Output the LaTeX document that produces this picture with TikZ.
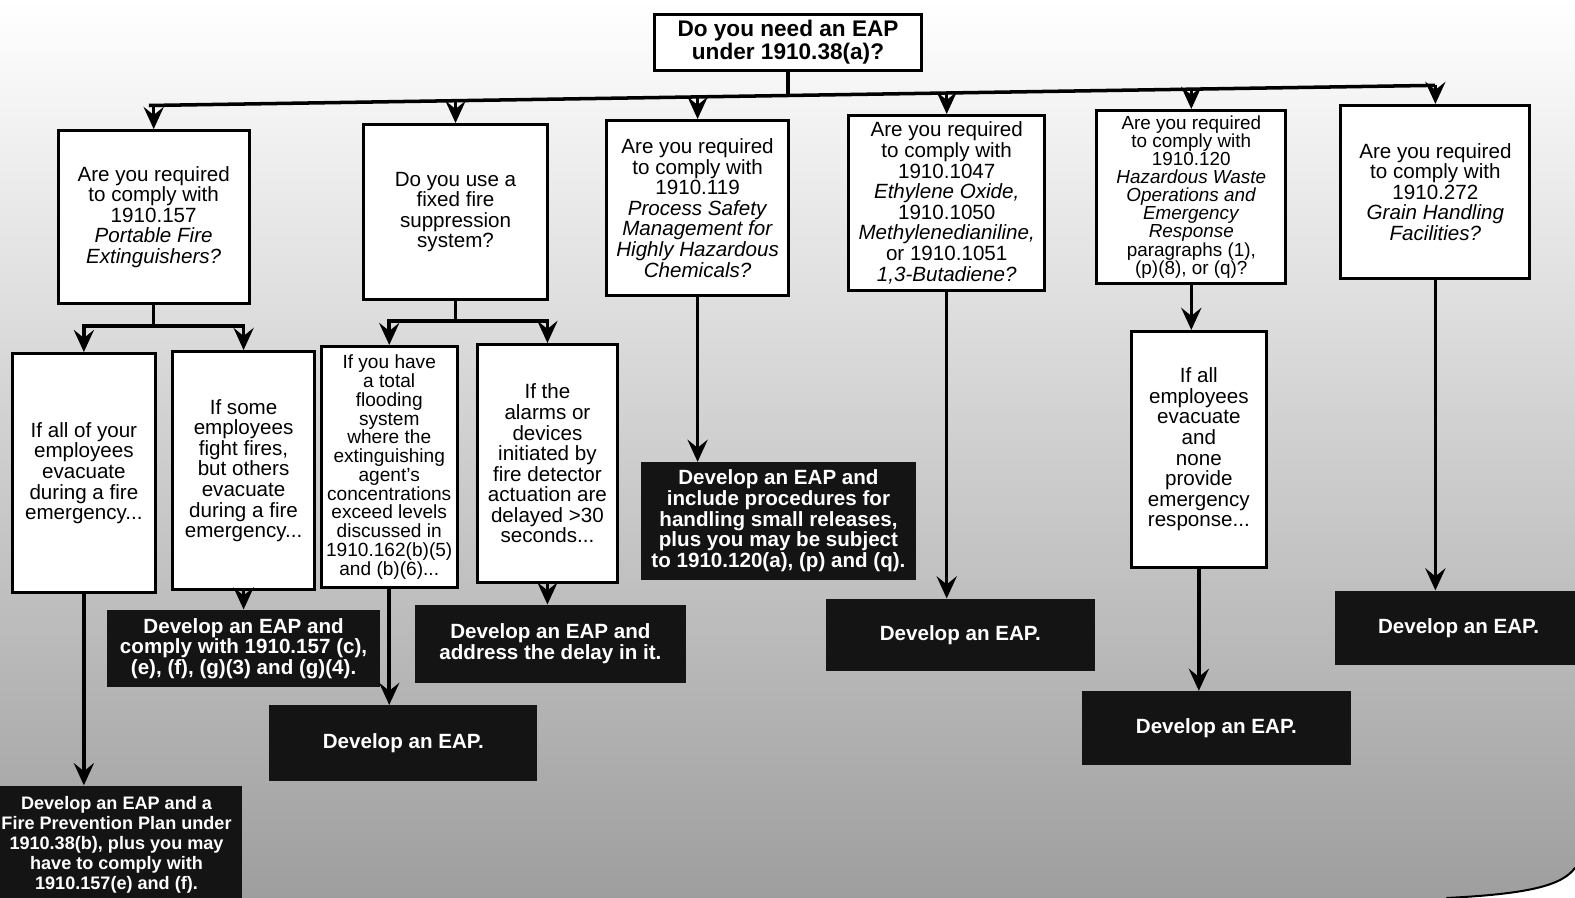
\documentclass[tikz,border=0pt]{standalone}
\usepackage{fontspec}
\setmainfont{Liberation Sans}
\usetikzlibrary{arrows.meta}
\begin{document}
\begin{tikzpicture}[x=1pt,y=-1pt,
  qbox/.style={draw=black, line width=3pt, fill=white, align=center, inner sep=0pt,
    font=\fontsize{20.5}{20.5}\selectfont},
  sbox/.style={qbox, font=\fontsize{18.8}{18}\selectfont},
  tbox/.style={qbox, font=\fontsize{19}{18.7}\selectfont},
  obox/.style={fill=black!92, text=white, align=center, inner sep=0pt,
    font=\bfseries\fontsize{20.5}{20.5}\selectfont},
  conn/.style={line width=3.5pt},
  arr/.style={line width=3.5pt, -{Stealth[length=22pt,width=20pt,inset=8pt]}}]
\useasboundingbox (0,0) rectangle (1568,894);
\clip (0,0) rectangle (1568,894);
% background halftone
\shade[top color=white, middle color=black!12, bottom color=black!38] (0,0) rectangle (1568,894);
\fill[white] (1440,894) .. controls (1520,890) and (1555,882) .. (1568,864) -- (1568,894) -- cycle;
\draw[line width=2pt] (1440,894) .. controls (1520,890) and (1555,882) .. (1568,864);

% top
\node[qbox, minimum width=265, minimum height=56, font=\bfseries\fontsize{22.5}{22}\selectfont] (top) at (784.5,42) {Do you need an EAP\\under 1910.38(a)?};

% question boxes
\node[qbox, minimum width=190, minimum height=172] (q1) at (153,216) {Are you required\\to comply with\\1910.157\\\textit{Portable Fire}\\\textit{Extinguishers?}};
\node[qbox, minimum width=183, minimum height=174] (q2) at (453.5,211) {Do you use a\\fixed fire\\suppression\\system?};
\node[qbox, minimum width=181, minimum height=174] (q3) at (694.5,207) {Are you required\\to comply with\\1910.119\\\textit{Process Safety}\\\textit{Management for}\\\textit{Highly Hazardous}\\\textit{Chemicals?}};
\node[qbox, minimum width=195, minimum height=174] (q4) at (942.5,202) {Are you required\\to comply with\\1910.1047\\\textit{Ethylene Oxide,}\\1910.1050\\\textit{Methylenedianiline,}\\or 1910.1051\\\textit{1,3-Butadiene?}};
\node[sbox, minimum width=188, minimum height=172] (q5) at (1186,196) {Are you required\\to comply with\\1910.120\\\textit{Hazardous Waste}\\\textit{Operations and}\\\textit{Emergency}\\\textit{Response}\\paragraphs (1),\\(p)(8), or (q)?};
\node[qbox, minimum width=188, minimum height=172] (q6) at (1429,191) {Are you required\\to comply with\\1910.272\\\textit{Grain Handling}\\\textit{Facilities?}};

% condition boxes
\node[qbox, minimum width=143, minimum height=238] (a1) at (83.5,471) {If all of your\\employees\\evacuate\\during a fire\\emergency...};
\node[qbox, minimum width=141, minimum height=237] (a2) at (242.5,468.5) {If some\\employees\\fight fires,\\but others\\evacuate\\during a fire\\emergency...};
\node[tbox, minimum width=135, minimum height=240] (b1) at (387.5,465) {If you have\\a total\\flooding\\system\\where the\\extinguishing\\agent's\\concentrations\\exceed levels\\discussed in\\1910.162(b)(5)\\and (b)(6)...};
\node[qbox, minimum width=140, minimum height=237] (b2) at (545,461.5) {If the\\alarms or\\devices\\initiated by\\fire detector\\actuation are\\delayed >30\\seconds...};
\node[qbox, minimum width=135, minimum height=235] (e) at (1193.5,447.5) {If all\\employees\\evacuate\\and\\none\\provide\\emergency\\response...};

% outcome boxes
\node[obox, minimum width=250, minimum height=118, font=\bfseries\fontsize{18}{20}\selectfont] (oa1) at (116,841) {Develop an EAP and a\\Fire Prevention Plan under\\1910.38(b), plus you may\\have to comply with\\1910.157(e) and (f).};
\node[obox, minimum width=271, minimum height=77] (oa2) at (242.5,645.5) {Develop an EAP and\\comply with 1910.157 (c),\\(e), (f), (g)(3) and (g)(4).};
\node[obox, minimum width=267, minimum height=76] (ob1) at (401.5,740) {Develop an EAP.};
\node[obox, minimum width=270, minimum height=78] (ob2) at (548,641) {Develop an EAP and\\address the delay in it.};
\node[obox, minimum width=274, minimum height=117] (oc) at (775,518.5) {Develop an EAP and\\include procedures for\\handling small releases,\\plus you may be subject\\to 1910.120(a), (p) and (q).};
\node[obox, minimum width=268, minimum height=72] (od) at (956,632) {Develop an EAP.};
\node[obox, minimum width=268, minimum height=74] (oe) at (1211,725) {Develop an EAP.};
\node[obox, minimum width=245, minimum height=74] (of) at (1452,625) {Develop an EAP.};

% trunk from top
\coordinate (bl) at (150,105);
\coordinate (br) at (1427,85);
\draw[conn] (top.south) -- (784.5,95);
\draw[conn, line cap=rect] (bl) -- (br);
\draw[arr] (q1.north |- 0,105) -- (q1.north);
\draw[arr] (q2.north |- 0,100) -- (q2.north);
\draw[arr] (q3.north |- 0,96.5) -- (q3.north);
\draw[arr] (q4.north |- 0,92.7) -- (q4.north);
\draw[arr] (q5.north |- 0,88.8) -- (q5.north);
\draw[arr] (q6.north |- 0,85) -- (q6.north);

% Q1 branches
\draw[conn] (q1.south) -- ++(0,21) coordinate (q1b);
\draw[conn, line cap=rect] (q1b -| a1.north) -- (q1b -| a2.north);
\draw[arr] (q1b -| a1.north) -- (a1.north);
\draw[arr] (q1b -| a2.north) -- (a2.north);
% Q2 branches
\draw[conn] (q2.south) -- ++(0,20) coordinate (q2b);
\draw[conn, line cap=rect] (q2b -| b1.north) -- (q2b -| b2.north);
\draw[arr] (q2b -| b1.north) -- (b1.north);
\draw[arr] (q2b -| b2.north) -- (b2.north);

% straight arrows
\draw[arr] (q3.south) -- (q3.south |- oc.north);
\draw[arr] (q4.south) -- (q4.south |- od.north);
\draw[arr] (q5.south) -- (q5.south |- e.north);
\draw[arr] (e.south) -- (e.south |- oe.north);
\draw[arr] (q6.south) -- (q6.south |- of.north);
\draw[arr] (a1.south) -- (a1.south |- oa1.north);
\draw[arr] (a2.south) -- (a2.south |- oa2.north);
\draw[arr] (b1.south) -- (b1.south |- ob1.north);
\draw[arr] (b2.south) -- (b2.south |- ob2.north);
\end{tikzpicture}
\end{document}
